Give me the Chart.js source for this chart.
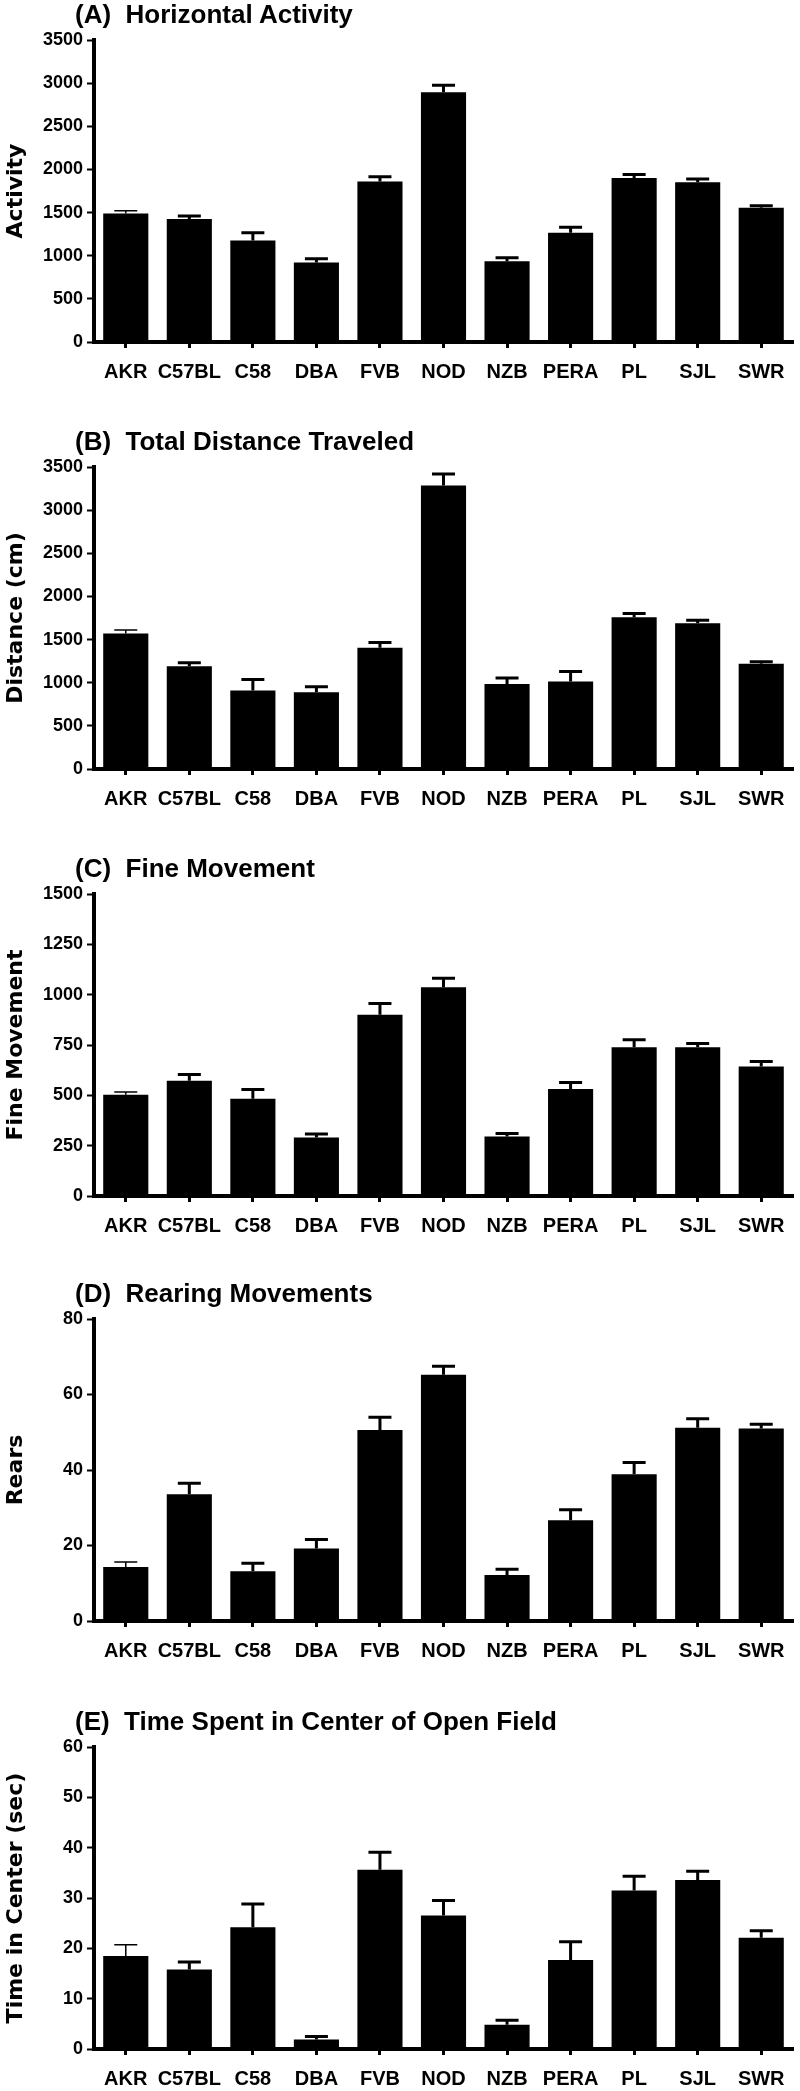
<!DOCTYPE html>
<html>
<head>
<meta charset="utf-8">
<script src="https://cdn.jsdelivr.net/npm/chart.js@4/dist/chart.umd.min.js"></script>
<style>
  html, body { margin: 0; padding: 0; background: #fff; }
  body { width: 800px; height: 2091px; position: relative; overflow: hidden; }
  .panel { position: absolute; left: 0; width: 800px; height: 384px; }
  .ptitle {
    position: absolute; left: 75px; height: 30px; line-height: 30px;
    font: bold 26px 'Liberation Sans', Arial, sans-serif; color: #000; white-space: pre;
  }
</style>
</head>
<body>

<script>
// strains on the x axis
const strains = ['AKR', 'C57BL', 'C58', 'DBA', 'FVB', 'NOD', 'NZB', 'PERA', 'PL', 'SJL', 'SWR'];

// (A) horizontal activity
const activityMean = [1490, 1425, 1175, 920, 1860, 2895, 935, 1265, 1900, 1850, 1555];
const activityErr  = [30, 35, 90, 45, 55, 80, 40, 65, 42, 40, 25];

// (B) total distance (cm)
const distanceMean = [1570, 1190, 910, 890, 1405, 3285, 985, 1015, 1760, 1690, 1220];
const distanceErr  = [40, 40, 128, 62, 62, 135, 70, 115, 43, 35, 23];

// (C) fine movement
const fineMean = [503, 572, 483, 291, 900, 1037, 296, 532, 739, 739, 643];
const fineErr  = [13, 31, 46, 17, 56, 44, 15, 32, 37, 18, 25];

// (D) rears
const rearsMean = [14.3, 33.6, 13.2, 19.2, 50.6, 65.2, 12.2, 26.7, 38.9, 51.2, 51.0];
const rearsErr  = [1.3, 2.9, 2.1, 2.4, 3.4, 2.3, 1.5, 2.8, 3.1, 2.4, 1.1];

// (E) time in center (sec)
const centerMean = [18.5, 15.8, 24.2, 1.9, 35.6, 26.5, 4.8, 17.7, 31.5, 33.6, 22.1];
const centerErr  = [2.2, 1.5, 4.6, 0.6, 3.5, 3.0, 0.9, 3.6, 2.8, 1.7, 1.4];

const panels = [
  { title: '(A)  Horizontal Activity', ytitle: 'Activity', mean: activityMean, err: activityErr, max: 3500, step: 500, top: 0 },
  { title: '(B)  Total Distance Traveled', ytitle: 'Distance (cm)', mean: distanceMean, err: distanceErr, max: 3500, step: 500, top: 427 },
  { title: '(C)  Fine Movement', ytitle: 'Fine Movement', mean: fineMean, err: fineErr, max: 1500, step: 250, top: 854 },
  { title: '(D)  Rearing Movements', ytitle: 'Rears', mean: rearsMean, err: rearsErr, max: 80, step: 20, top: 1279 },
  { title: '(E)  Time Spent in Center of Open Field', ytitle: 'Time in Center (sec)', mean: centerMean, err: centerErr, max: 60, step: 10, top: 1707 }
];

Chart.defaults.font.family = "'Liberation Sans', Arial, sans-serif";
Chart.defaults.color = '#000';

// upward error bars (SEM), drawn with the chart's own scales
const errorBars = {
  id: 'errorBars',
  afterDatasetsDraw(chart) {
    const ctx = chart.ctx;
    const yScale = chart.scales.y;
    chart.data.datasets.forEach((ds, di) => {
      const meta = chart.getDatasetMeta(di);
      meta.data.forEach((bar, i) => {
        const yTop = yScale.getPixelForValue(ds.data[i] + ds.errors[i]);
        const thin = i === 0;
        ctx.save();
        ctx.strokeStyle = '#000';
        ctx.lineWidth = thin ? 1.5 : 3;
        ctx.beginPath();
        ctx.moveTo(bar.x, bar.y);
        ctx.lineTo(bar.x, yTop);
        ctx.moveTo(bar.x - 11.5, yTop);
        ctx.lineTo(bar.x + 11.5, yTop);
        ctx.stroke();
        ctx.restore();
      });
    });
  }
};

panels.forEach(p => {
  const wrap = document.createElement('div');
  wrap.className = 'panel';
  wrap.style.top = p.top + 'px';
  const canvas = document.createElement('canvas');
  wrap.appendChild(canvas);
  document.body.appendChild(wrap);

  const t = document.createElement('div');
  t.className = 'ptitle';
  t.style.top = (p.top - 1) + 'px';
  t.textContent = p.title;
  document.body.appendChild(t);

  new Chart(canvas, {
    type: 'bar',
    data: {
      labels: strains,
      datasets: [{
        data: p.mean,
        errors: p.err,
        backgroundColor: '#000',
        borderWidth: 0,
        barPercentage: 0.71,
        categoryPercentage: 1
      }]
    },
    options: {
      responsive: true,
      maintainAspectRatio: false,
      animation: false,
      layout: { padding: { top: 40, right: 7, bottom: 0, left: 0 } },
      plugins: { legend: { display: false }, tooltip: { enabled: false } },
      scales: {
        x: {
          afterFit: s => { s.height = 42; },
          grid: { display: true, drawOnChartArea: false, offset: false, tickLength: 6, tickWidth: 3, tickColor: '#000' },
          border: { display: true, color: '#000', width: 4 },
          ticks: { font: { size: 20, weight: 'bold' }, padding: 12, maxRotation: 0, autoSkip: false }
        },
        y: {
          min: 0,
          max: p.max,
          afterFit: s => { s.width = 94; },
          grid: { display: true, drawOnChartArea: false, tickLength: 7, tickWidth: 2, tickColor: '#000' },
          border: { display: true, color: '#000', width: 4 },
          ticks: { stepSize: p.step, font: { size: 18, weight: 'bold' }, padding: 4, callback: v => String(v) },
          title: {
            display: true,
            text: p.ytitle,
            font: { family: "'DejaVu Sans', sans-serif", size: 22, weight: 'bold' },
            padding: { top: 3, bottom: 0 }
          }
        }
      }
    },
    plugins: [errorBars]
  });
});
</script>
</body>
</html>
